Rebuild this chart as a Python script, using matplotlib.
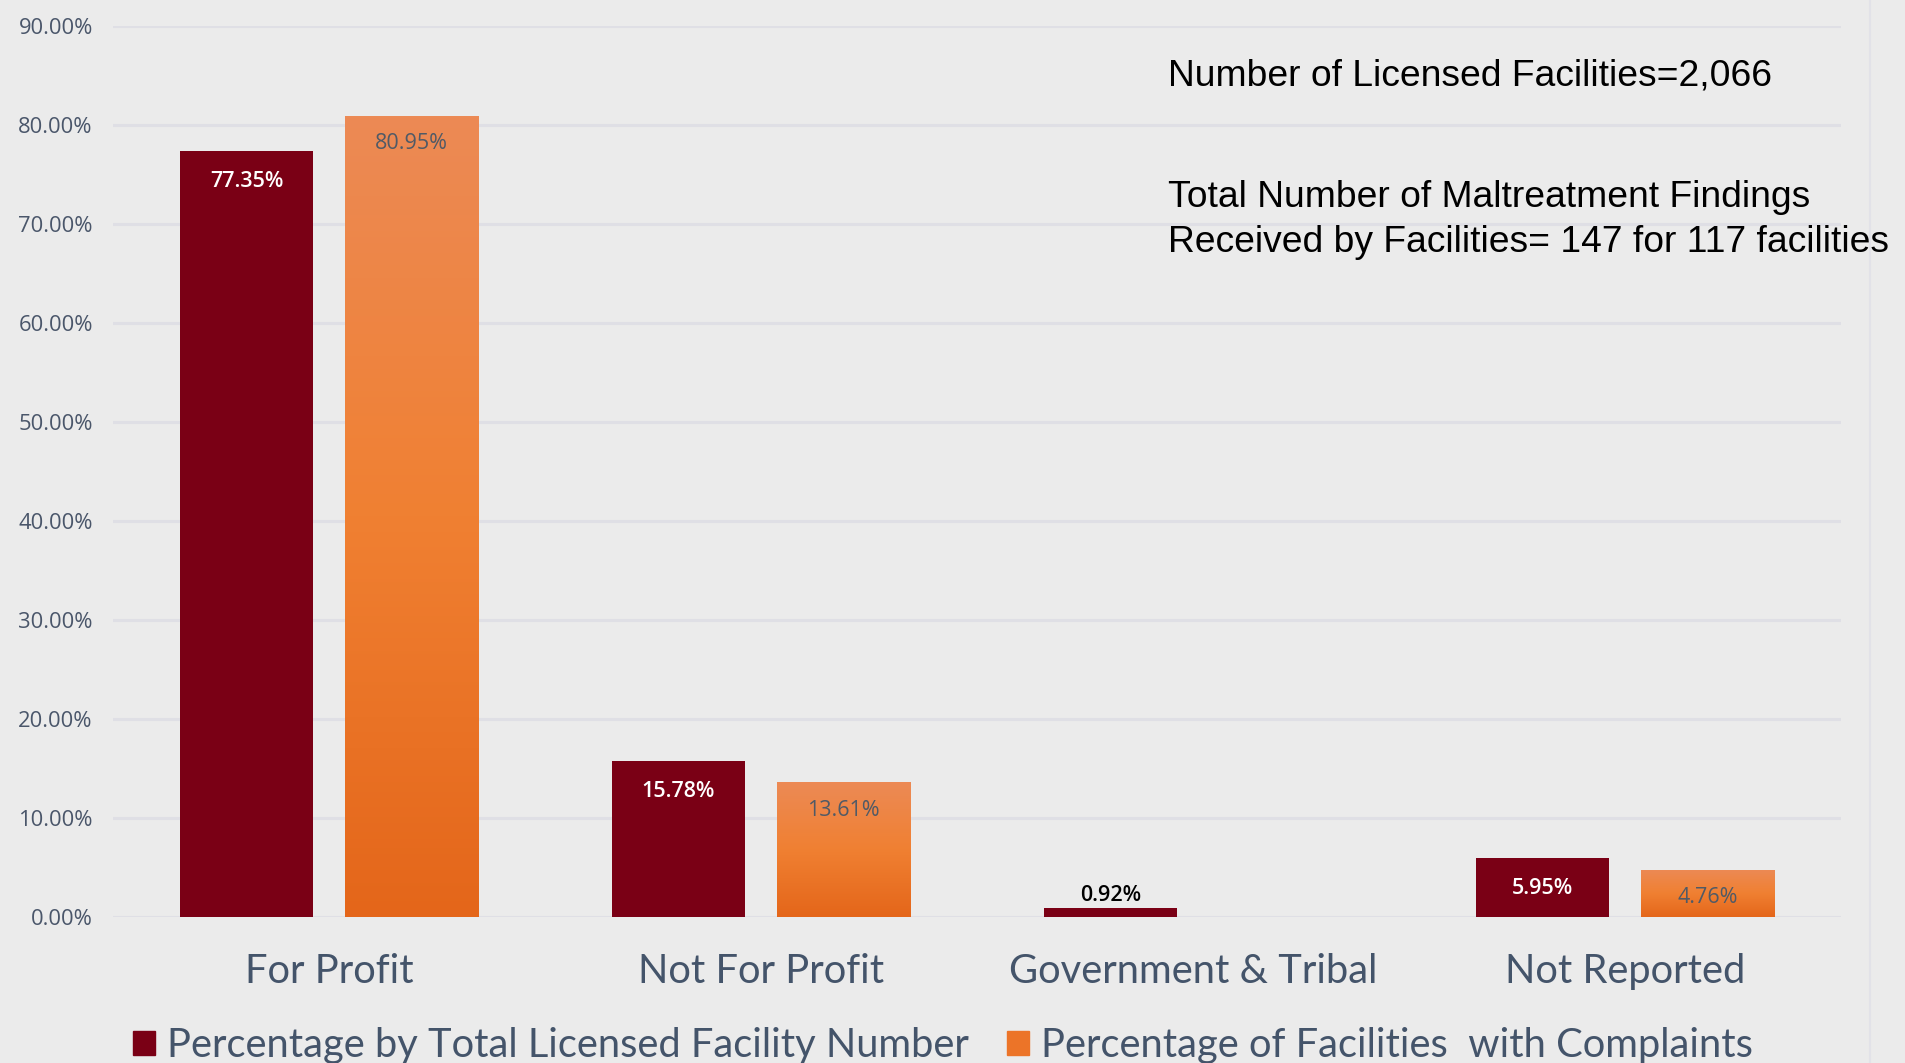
import numpy as np
import matplotlib
matplotlib.use('Agg')
import matplotlib.pyplot as plt
from matplotlib.colors import LinearSegmentedColormap
from matplotlib.patches import Patch

# data
categories = ['For Profit', 'Not For Profit', 'Government & Tribal', 'Not Reported']
pct_total = [77.35, 15.78, 0.92, 5.95]
pct_complaints = [80.95, 13.61, 0.0, 4.76]
yticks = [0, 10, 20, 30, 40, 50, 60, 70, 80, 90]
series_names = ['Percentage by Total Licensed Facility Number',
                'Percentage of Facilities  with Complaints']
note_lines = ['Number of Licensed Facilities=2,066',
              'Total Number of Maltreatment Findings',
              'Received by Facilities= 147 for 117 facilities']

bg = '#EBEBEB'
dark_red = '#7A0015'
orange = '#EE7A30'
orange_grad = LinearSegmentedColormap.from_list(
    'og', ['#E4661A', '#F08032', '#EC8A55'])

fig = plt.figure(figsize=(19.05, 10.63), dpi=100, facecolor=bg)
ax = fig.add_axes([113 / 1905, 1 - 917 / 1063, 1728 / 1905, 891 / 1063])
ax.set_facecolor(bg)

x = np.arange(len(categories))
w = 0.31
off = 0.191

b1 = ax.bar(x - off, pct_total, w, color=dark_red, zorder=3, linewidth=0)
b2 = ax.bar(x + off, pct_complaints, w, color=orange, zorder=3, linewidth=0)

# vertical gradient on the orange bars
grad = np.linspace(0, 1, 256).reshape(-1, 1)
for p in b2:
    if p.get_height() <= 0:
        continue
    x0, y0 = p.get_x(), p.get_y()
    im = ax.imshow(grad, extent=[x0, x0 + p.get_width(), y0, y0 + p.get_height()],
                   origin='lower', aspect='auto', cmap=orange_grad, zorder=4)
    im.set_clip_path(p)

# value labels
for p, v in zip(b1, pct_total):
    cx = p.get_x() + p.get_width() / 2
    if v < 2:
        ax.annotate(f'{v:.2f}%', (cx, v), xytext=(0, 9), textcoords='offset points',
                    ha='center', va='center', fontsize=15.5, color='black',
                    family='Open Sans', weight='semibold', zorder=6)
    else:
        ax.annotate(f'{v:.2f}%', (cx, v), xytext=(0, -22), textcoords='offset points',
                    ha='center', va='center', fontsize=15.5, color='white',
                    family='Open Sans', weight='semibold', zorder=6)
for p, v in zip(b2, pct_complaints):
    if v <= 0:
        continue
    cx = p.get_x() + p.get_width() / 2
    ax.annotate(f'{v:.2f}%', (cx, v), xytext=(0, -20), textcoords='offset points',
                ha='center', va='center', fontsize=15.5, color='#505A66',
                family='Open Sans', zorder=6)

ax.set_xlim(-0.5, 3.5)
ax.set_ylim(0, 90)
ax.set_yticks(yticks)
ax.set_yticklabels([f'{t:.2f}%' for t in yticks], family='Open Sans',
                   fontsize=15.8, color='#4A566A')
ax.set_xticks(x)
ax.set_xticklabels(categories, family='Lato', fontsize=28.7, color='#44546A')
ax.tick_params(axis='both', length=0)
ax.tick_params(axis='y', pad=14.5)
ax.tick_params(axis='x', pad=26)
ax.grid(axis='y', color='#DFDFE5', linewidth=2.2, zorder=0)
ax.set_axisbelow(True)
for s in ax.spines.values():
    s.set_visible(False)

# notes in the upper right
for line, yb in zip(note_lines, [85, 207, 252]):
    fig.text(1168 / 1905, 1 - yb / 1063, line, family='Liberation Sans',
             fontsize=26.8, color='black', va='baseline')

# legend
handles = [Patch(color=dark_red), Patch(color='#EC7428')]
fig.legend(handles, series_names, loc='center left', bbox_to_anchor=(0.0615, 0.016),
           ncol=2, frameon=False, prop={'family': 'Lato', 'size': 28.7},
           labelcolor='#44546A', handlelength=0.55, handleheight=0.55,
           handletextpad=0.3, columnspacing=0.95, borderaxespad=0)

# faint right-hand panel edge
fig.add_artist(plt.Line2D([1870 / 1905] * 2, [0, 1], color='#E2E2E8', lw=1.5))

fig.savefig('out.png', dpi=100, facecolor=bg)
